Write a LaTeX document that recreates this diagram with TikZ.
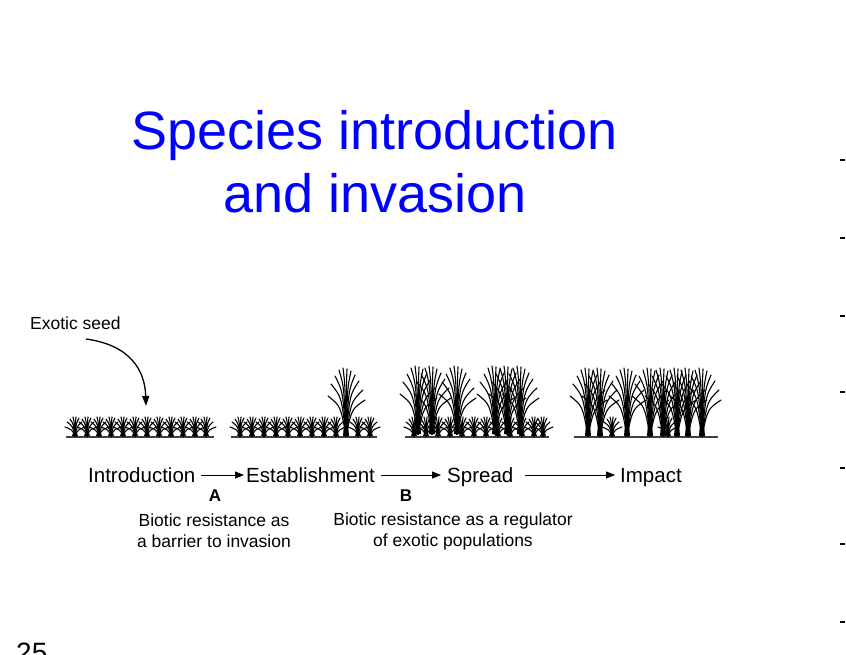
\documentclass[tikz,border=0pt]{standalone}
\usepackage{fontspec}
\setmainfont{Liberation Sans}
\usetikzlibrary{arrows.meta}
\tikzset{
  lbl/.style={font=\fontsize{20.5}{22}\selectfont, inner sep=0pt},
  sm/.style={font=\fontsize{17.5}{21}\selectfont, inner sep=0pt, align=center},
  flow/.style={-{Triangle[length=9pt,width=7pt]}, line width=0.8pt},
  ground/.style={line width=1.3pt, draw=black!75},
  blade/.style={line width=1.1pt, line cap=round},
  small tuft/.pic={
    \fill (-3,0) -- (0,-8) -- (3,0) -- cycle;
    \foreach \dx/\h in {-10/-9,-8/-14,-5/-17,-2/-19,1/-19,4/-18,7/-14,10/-9}
      \draw[blade] (0,0) .. controls (0.3*\dx,0.7*\h) .. (\dx,\h);
  },
  tall tuft/.pic={
    \fill (-3,0) -- (-0.5,-30) -- (0.5,-30) -- (3,0) -- cycle;
    \foreach \dx/\h in {-18/-40,-15/-52,-11/-60,-7/-66,-3/-68,1/-67,5/-65,9/-61,13/-55,17/-46,19/-36}
      \draw[blade] (0,0) .. controls (0.3*\dx,0.75*\h) .. (\dx,\h);
  }
}
\begin{document}
\begin{tikzpicture}[x=1pt,y=-1pt]
\useasboundingbox[fill=white] (0,0) rectangle (846,654);
\node[text=blue, align=center, font=\fontsize{54}{63}\selectfont, inner sep=0pt] (title) at (375,162) {Species introduction\\and invasion};
\foreach \yy [count=\i] in {160,238,316,392,468,544,622}
  \draw[line width=1.5pt] (840,\yy) coordinate (t\i) -- ++(5,0);
\node[font=\fontsize{28}{30}\selectfont, anchor=north west, inner sep=0pt] (pg) at (16,643) {25};
% ground lines
\draw[ground] (66,437) coordinate (g1a) -- (214,437) coordinate (g1b);
\draw[ground] (231,437) coordinate (g2a) -- (377,437) coordinate (g2b);
\draw[ground] (405,437) coordinate (g3a) -- (549,437) coordinate (g3b);
\draw[ground] (574,437) coordinate (g4a) -- (718,437) coordinate (g4b);
% panel 1
\foreach \x in {75,87,99,111,123,135,147,159,171,183,195,206}
  \pic at (\x,436) {small tuft};
% panel 2
\foreach \x in {240,252,264,276,288,300,312,324,336,358,370}
  \pic at (\x,436) {small tuft};
\pic at (346,436) {tall tuft};
% panel 3
\foreach \x in {414,426,438,450,462,474,486,498,510,522,534,543}
  \pic at (\x,436) {small tuft};
\foreach \x in {418,432,457,495,507,520}
  \pic at (\x,434) {tall tuft};
% panel 4
\foreach \x in {612,668}
  \pic at (\x,436) {small tuft};
\foreach \x in {588,600,627,650,663,677,688,702}
  \pic at (\x,436) {tall tuft};
% exotic seed
\node[font=\fontsize{17.5}{19}\selectfont, inner sep=0pt, anchor=west] (seed) at (30,323) {Exotic seed};
\coordinate (seedend) at (146,406);
\draw[-{Triangle[length=10pt,width=7pt]}, line width=1.3pt] (86,339) .. controls (130,345) and (145,370) .. (seedend);
% flow
\node[lbl, anchor=base west] (intro) at (88,482) {Introduction};
\node[lbl, anchor=base west] (est) at (246,482) {Establishment};
\node[lbl, anchor=base west] (spr) at (447,482) {Spread};
\node[lbl, anchor=base west] (imp) at (620,482) {Impact};
\draw[flow] ([xshift=5pt,yshift=7pt]intro.base east) -- ([xshift=-2pt,yshift=7pt]est.base west);
\draw[flow] ([xshift=6pt,yshift=7pt]est.base east) -- ([xshift=-6pt,yshift=7pt]spr.base west);
\draw[flow] ([xshift=11pt,yshift=7pt]spr.base east) -- ([xshift=-5pt,yshift=7pt]imp.base west);
\node[lbl, font=\bfseries\fontsize{17}{19}\selectfont] (A) at (215,496) {A};
\node[lbl, font=\bfseries\fontsize{17}{19}\selectfont] (B) at (406,496) {B};
\node[sm] (ta) at (214,531) {Biotic resistance as\\a barrier to invasion};
\node[sm] (tb) at (453,531) {Biotic resistance as a regulator\\of exotic populations};
\end{tikzpicture}
\end{document}
